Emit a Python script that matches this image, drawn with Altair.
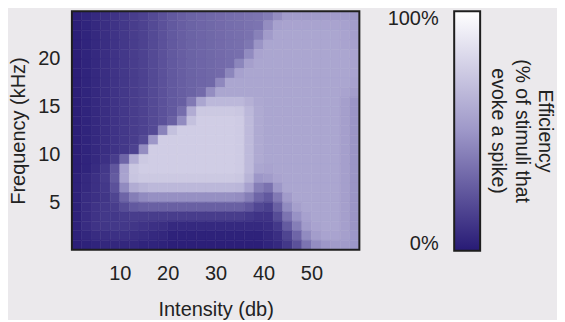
import altair as alt
import pandas as pd

# ---- data ----
INTENSITY = [1, 3, 5, 7, 9, 11, 13, 15, 17, 19, 21, 23, 25, 27, 29,
             31, 33, 35, 37, 39, 41, 43, 45, 47, 49, 51, 53, 55, 57, 59]
FREQUENCY = [24.5, 23.5, 22.5, 21.5, 20.5, 19.5, 18.5, 17.5, 16.5, 15.5,
             14.5, 13.5, 12.5, 11.5, 10.5, 9.5, 8.5, 7.5, 6.5, 5.5,
             4.5, 3.5, 2.5, 1.5, 0.5]

ROW_245 = [0.02,0.04,0.06,0.08,0.10,0.12,0.14,0.16,0.19,0.22,0.25,0.27,0.29,0.30,0.31,0.32,0.33,0.34,0.35,0.36,0.39,0.46,0.52,0.52,0.52,0.52,0.52,0.52,0.52,0.50]
ROW_235 = [0.02,0.04,0.06,0.08,0.10,0.12,0.14,0.16,0.19,0.22,0.25,0.27,0.29,0.30,0.31,0.32,0.33,0.34,0.35,0.36,0.46,0.55,0.56,0.56,0.56,0.56,0.56,0.56,0.55,0.53]
ROW_225 = [0.02,0.04,0.06,0.08,0.10,0.12,0.14,0.16,0.19,0.22,0.25,0.27,0.29,0.30,0.31,0.32,0.33,0.34,0.35,0.41,0.52,0.57,0.57,0.57,0.57,0.57,0.57,0.57,0.56,0.54]
ROW_215 = [0.02,0.04,0.06,0.08,0.10,0.12,0.14,0.16,0.19,0.22,0.25,0.27,0.29,0.30,0.31,0.32,0.33,0.34,0.37,0.49,0.57,0.57,0.57,0.57,0.57,0.57,0.57,0.57,0.56,0.55]
ROW_205 = [0.02,0.04,0.06,0.08,0.10,0.12,0.14,0.16,0.19,0.22,0.25,0.27,0.29,0.30,0.31,0.32,0.33,0.34,0.45,0.56,0.57,0.57,0.57,0.57,0.57,0.57,0.57,0.57,0.57,0.56]
ROW_195 = [0.02,0.04,0.06,0.08,0.10,0.12,0.14,0.16,0.19,0.22,0.25,0.27,0.29,0.30,0.31,0.32,0.33,0.43,0.54,0.57,0.57,0.57,0.57,0.57,0.57,0.57,0.57,0.57,0.57,0.56]
ROW_185 = [0.02,0.04,0.06,0.08,0.10,0.12,0.14,0.16,0.19,0.22,0.25,0.27,0.29,0.30,0.31,0.32,0.43,0.55,0.57,0.57,0.57,0.57,0.57,0.57,0.57,0.57,0.57,0.57,0.57,0.56]
ROW_175 = [0.02,0.04,0.06,0.08,0.10,0.12,0.14,0.16,0.19,0.22,0.25,0.27,0.29,0.30,0.31,0.44,0.57,0.57,0.57,0.57,0.57,0.57,0.57,0.57,0.57,0.57,0.57,0.57,0.57,0.55]
ROW_165 = [0.02,0.04,0.06,0.08,0.10,0.12,0.14,0.16,0.19,0.22,0.25,0.27,0.29,0.32,0.46,0.57,0.57,0.57,0.57,0.57,0.57,0.57,0.57,0.57,0.57,0.57,0.57,0.57,0.56,0.53]
ROW_155 = [0.02,0.04,0.06,0.08,0.10,0.12,0.14,0.16,0.19,0.22,0.25,0.27,0.38,0.57,0.66,0.66,0.66,0.66,0.62,0.58,0.57,0.57,0.57,0.57,0.57,0.57,0.57,0.57,0.54,0.49]
ROW_145 = [0.02,0.04,0.06,0.08,0.10,0.12,0.14,0.16,0.19,0.22,0.25,0.33,0.60,0.74,0.74,0.74,0.74,0.73,0.66,0.59,0.57,0.57,0.57,0.57,0.57,0.57,0.57,0.57,0.54,0.49]
ROW_135 = [0.02,0.04,0.06,0.08,0.10,0.12,0.14,0.16,0.19,0.22,0.28,0.45,0.70,0.76,0.76,0.76,0.76,0.75,0.67,0.59,0.57,0.57,0.57,0.57,0.57,0.57,0.57,0.57,0.54,0.49]
ROW_125 = [0.02,0.04,0.06,0.08,0.10,0.12,0.14,0.16,0.19,0.42,0.70,0.76,0.76,0.76,0.76,0.76,0.76,0.75,0.67,0.59,0.57,0.57,0.57,0.57,0.57,0.57,0.57,0.57,0.54,0.49]
ROW_115 = [0.02,0.04,0.06,0.08,0.10,0.12,0.14,0.19,0.50,0.76,0.76,0.76,0.76,0.76,0.76,0.76,0.76,0.75,0.67,0.59,0.57,0.57,0.57,0.57,0.57,0.57,0.57,0.57,0.54,0.49]
ROW_105 = [0.02,0.04,0.06,0.08,0.10,0.12,0.16,0.46,0.76,0.76,0.76,0.76,0.76,0.76,0.76,0.76,0.76,0.75,0.67,0.59,0.57,0.57,0.57,0.57,0.57,0.57,0.57,0.57,0.54,0.49]
ROW_095 = [0.02,0.04,0.06,0.09,0.14,0.30,0.60,0.74,0.76,0.76,0.76,0.76,0.76,0.76,0.76,0.76,0.76,0.75,0.67,0.59,0.57,0.57,0.57,0.57,0.57,0.57,0.57,0.57,0.54,0.49]
ROW_085 = [0.02,0.04,0.07,0.12,0.24,0.55,0.73,0.76,0.76,0.76,0.76,0.76,0.76,0.76,0.76,0.76,0.76,0.75,0.67,0.57,0.56,0.57,0.57,0.57,0.57,0.57,0.57,0.57,0.54,0.49]
ROW_075 = [0.03,0.06,0.09,0.13,0.26,0.56,0.72,0.74,0.74,0.74,0.74,0.74,0.74,0.74,0.74,0.74,0.74,0.73,0.64,0.50,0.52,0.56,0.57,0.57,0.57,0.57,0.57,0.57,0.54,0.49]
ROW_065 = [0.03,0.06,0.09,0.12,0.22,0.45,0.60,0.64,0.66,0.66,0.66,0.66,0.66,0.66,0.66,0.66,0.66,0.65,0.55,0.40,0.35,0.50,0.57,0.57,0.57,0.57,0.57,0.57,0.54,0.49]
ROW_055 = [0.03,0.07,0.09,0.11,0.17,0.30,0.40,0.45,0.47,0.47,0.47,0.47,0.47,0.47,0.47,0.47,0.47,0.46,0.40,0.30,0.25,0.38,0.52,0.57,0.57,0.57,0.57,0.57,0.54,0.49]
ROW_045 = [0.03,0.07,0.10,0.12,0.14,0.20,0.25,0.27,0.28,0.28,0.28,0.28,0.28,0.28,0.28,0.28,0.28,0.28,0.24,0.18,0.15,0.28,0.45,0.54,0.57,0.57,0.57,0.57,0.54,0.49]
ROW_035 = [0.03,0.07,0.10,0.12,0.12,0.13,0.14,0.14,0.14,0.14,0.14,0.14,0.14,0.14,0.14,0.14,0.14,0.14,0.12,0.10,0.10,0.20,0.36,0.48,0.55,0.57,0.57,0.57,0.54,0.49]
ROW_025 = [0.03,0.07,0.10,0.11,0.12,0.12,0.11,0.10,0.09,0.08,0.06,0.06,0.06,0.06,0.06,0.06,0.06,0.06,0.06,0.06,0.07,0.12,0.26,0.40,0.52,0.56,0.57,0.57,0.54,0.49]
ROW_015 = [0.03,0.05,0.07,0.08,0.09,0.09,0.08,0.07,0.06,0.05,0.03,0.03,0.03,0.03,0.03,0.03,0.03,0.03,0.03,0.03,0.05,0.08,0.17,0.30,0.45,0.53,0.56,0.56,0.54,0.50]
ROW_005 = [0.02,0.03,0.04,0.05,0.05,0.05,0.05,0.04,0.04,0.03,0.02,0.02,0.02,0.02,0.02,0.02,0.02,0.02,0.02,0.02,0.04,0.06,0.12,0.22,0.36,0.46,0.50,0.52,0.52,0.50]

EFFICIENCY = [ROW_245, ROW_235, ROW_225, ROW_215, ROW_205, ROW_195, ROW_185,
              ROW_175, ROW_165, ROW_155, ROW_145, ROW_135, ROW_125, ROW_115,
              ROW_105, ROW_095, ROW_085, ROW_075, ROW_065, ROW_055, ROW_045,
              ROW_035, ROW_025, ROW_015, ROW_005]

X_TICKS = [10, 20, 30, 40, 50]
Y_TICKS = [5, 10, 15, 20]
CBAR_TICKS = [0, 1]
CBAR_TITLE = ["Efficiency", "(% of stimuli that", "evoke a spike)"]
CMAP = ["#271a75", "#9d97c8", "#ffffff"]
FONT = "Liberation Sans"
TXT = "#222222"
FRAME = "#1e1e1e"

records = []
for fi, f in enumerate(FREQUENCY):
    for ii, x in enumerate(INTENSITY):
        records.append({"x0": x - 1, "x1": x + 1, "y0": f - 0.5, "y1": f + 0.5,
                        "v": EFFICIENCY[fi][ii]})
df = pd.DataFrame(records)
one = pd.DataFrame({"lo": [0.0], "hi": [1.0]})

cscale = alt.Scale(domain=[0, 0.5, 1], range=CMAP, interpolate="rgb")

cells = alt.Chart(df).mark_rect(strokeWidth=0.5, clip=True).encode(
    x=alt.X("x0:Q", scale=alt.Scale(domain=[0, 60], nice=False, zero=False),
            axis=alt.Axis(values=X_TICKS, title="Intensity (db)",
                          labelPadding=14, titlePadding=16)),
    x2="x1",
    y=alt.Y("y0:Q", scale=alt.Scale(domain=[0, 25], nice=False, zero=False),
            axis=alt.Axis(values=Y_TICKS, title="Frequency (kHz)",
                          labelPadding=12, titlePadding=9)),
    y2="y1",
    color=alt.Color("v:Q", scale=cscale, legend=None),
    stroke=alt.Stroke("v:Q", scale=cscale, legend=None),
)
frame = alt.Chart(one).mark_rect(filled=False, stroke=FRAME, strokeWidth=2).encode(
    x=alt.value(0), x2=alt.value("width"), y=alt.value(0), y2=alt.value("height"))
heat = alt.layer(cells, frame).properties(width=288, height=239)

grad = alt.Gradient(
    gradient="linear",
    stops=[alt.GradientStop(color=CMAP[2], offset=0),
           alt.GradientStop(color=CMAP[1], offset=0.5),
           alt.GradientStop(color=CMAP[0], offset=1)],
    x1=0, x2=0, y1=0, y2=1,
)
xs = alt.Scale(domain=[0, 1], nice=False)
ys = alt.Scale(domain=[0, 1], nice=False)
bar = alt.Chart(one).mark_rect(fill=grad, stroke=FRAME, strokeWidth=2).encode(
    x=alt.X("lo:Q", scale=xs, axis=None),
    x2="hi",
    y=alt.Y("lo:Q", scale=ys,
            axis=alt.Axis(values=CBAR_TICKS, format=".0%", title=None,
                          labelPadding=16, labelFlush=True, labelFlushOffset=3)),
    y2="hi",
)
bar_title = alt.Chart(one).mark_text(
    text=CBAR_TITLE, angle=90, font=FONT, fontSize=19.5, lineHeight=23.5,
    color=TXT, align="center", baseline="middle",
).encode(
    x=alt.value(91),
    y=alt.Y(datum=0.5, scale=ys),
)
colorbar = alt.layer(bar, bar_title).properties(width=26, height=240)

chart = alt.hconcat(heat, colorbar, spacing=95, bounds="flush").properties(
    padding={"left": 0, "top": 0, "right": 2, "bottom": 0},
    background="#ebe9ec",
).configure_view(
    strokeWidth=0
).configure_axis(
    grid=False, ticks=False, domain=False,
    labelFont=FONT, titleFont=FONT, labelFontSize=20, titleFontSize=20,
    labelColor=TXT, titleColor=TXT, titleFontWeight="normal",
)

chart.save("out.html", embed_options={"renderer": "svg", "actions": False})
